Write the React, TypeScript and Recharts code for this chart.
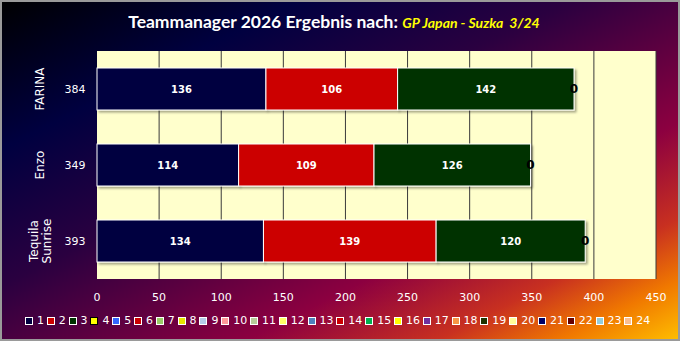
import React from "react";
import { BarChart, Bar, XAxis, YAxis, CartesianGrid, LabelList } from "recharts";

const categories = ["FARINA", "Enzo", "Tequila Sunrise"];
const totals = [384, 349, 393];
const race1 = [136, 114, 134];
const race2 = [106, 109, 139];
const race3 = [142, 126, 120];
const race4 = [0, 0, 0];
const xTicks = [0, 50, 100, 150, 200, 250, 300, 350, 400, 450];

const seriesColors = ["#000040", "#cc0000", "#003300", "#ffff00"];
const legendLabels = [
  "1", "2", "3", "4", "5", "6", "7", "8", "9", "10", "11", "12",
  "13", "14", "15", "16", "17", "18", "19", "20", "21", "22", "23", "24",
];
const legendColors = [
  "#000040", "#cc0000", "#003300", "#ffff00", "#3366ff", "#cc0000",
  "#99cc66", "#e6e600", "#b4cce8", "#ff9999", "#b8cc99", "#ffff66",
  "#4f81bd", "#cc0000", "#00b050", "#ffff00", "#7030a0", "#f79646",
  "#1f3300", "#ffff99", "#000066", "#660000", "#92cddc", "#fabf8f",
];

const data = categories.map((name, i) => ({
  name,
  total: totals[i],
  r1: race1[i],
  r2: race2[i],
  r3: race3[i],
  r4: race4[i],
}));

const font = "'DejaVu Sans', Verdana, sans-serif";

function CategoryTick(props: any) {
  const { x, y, payload } = props;
  const idx = categories.indexOf(payload.value);
  const words = String(payload.value).split(" ");
  const nx = x - 57;
  return (
    <g fill="#ffffff" fontFamily={font}>
      <text
        transform={`rotate(-90, ${nx}, ${y})`}
        x={nx}
        y={y}
        textAnchor="middle"
        dominantBaseline="central"
        fill="#ffffff"
        fontSize={12}
      >
        {words.length === 1 ? (
          words[0]
        ) : (
          words.map((w, k) => (
            <tspan key={k} x={nx} y={y + (k - (words.length - 1) / 2) * 13}>
              {w}
            </tspan>
          ))
        )}
      </text>
      <text
        x={x - 22}
        y={y}
        textAnchor="middle"
        dominantBaseline="central"
        fill="#ffffff"
        fontSize={11}
      >
        {totals[idx]}
      </text>
    </g>
  );
}

function ShadowRect(props: any) {
  const { x, y, width, height, fill } = props;
  if (!width || width <= 0) return null;
  return (
    <rect
      x={x}
      y={y}
      width={width}
      height={height}
      fill={fill}
      stroke="#ffffff"
      strokeWidth={1}
      filter="url(#barShadow)"
    />
  );
}

// skip the line at 0, the reference has none there
function GridLine(props: any) {
  const { x1, y1, x2, y2, index } = props;
  if (index === 0) return <g />;
  return <line x1={x1} y1={y1} x2={x2} y2={y2} stroke="#3a3a3a" strokeWidth={1} />;
}

export default function App() {
  return (
    <div
      style={{
        position: "absolute",
        left: 0,
        top: 0,
        width: 680,
        height: 341,
        overflow: "hidden",
        background:
          "linear-gradient(to bottom right, #000000 0%, #000040 22%, #2a0040 42%, #5a0040 55%, #8c0040 68%, #c83020 82%, #f07800 91%, #ffc000 100%)",
      }}
    >
      <svg width={0} height={0} style={{ position: "absolute" }}>
        <defs>
          <filter id="barShadow" x="-5%" y="-20%" width="115%" height="150%">
            <feDropShadow dx={2} dy={2} stdDeviation={1} floodColor="#000000" floodOpacity={0.35} />
          </filter>
        </defs>
      </svg>
      <div
        style={{
          position: "absolute",
          top: 12,
          left: -6,
          width: 680,
          textAlign: "center",
          lineHeight: "20px",
          whiteSpace: "pre",
        }}
      >
        <span style={{ fontFamily: "Lato, sans-serif", fontWeight: 700, fontSize: 17.5, color: "#ffffff" }}>
          Teammanager 2026 Ergebnis nach:{" "}
        </span>
        <span
          style={{
            fontFamily: "Lato, sans-serif",
            fontWeight: 700,
            fontStyle: "italic",
            fontSize: 14,
            color: "#ffff00",
          }}
        >
          GP Japan - Suzka  3/24
        </span>
      </div>
      <div style={{ position: "absolute", left: 0, top: 0 }}>
        <BarChart
          width={680}
          height={341}
          data={data}
          layout="vertical"
          margin={{ top: 51, right: 24, bottom: 42, left: 0 }}
        >
          <CartesianGrid
            horizontal={false}
            vertical={(p: any) => <GridLine {...p} />}
            stroke="#3a3a3a"
            fill="#ffffcc"
            fillOpacity={1}
          />
          <XAxis
            type="number"
            domain={[0, 450]}
            ticks={xTicks}
            height={20}
            axisLine={false}
            tickLine={false}
            tickSize={0}
            tickMargin={14}
            tick={{ fill: "#ffffff", fontSize: 11, fontFamily: font }}
          />
          <YAxis
            type="category"
            dataKey="name"
            width={97}
            axisLine={false}
            tickLine={false}
            tickSize={0}
            tickMargin={0}
            tick={<CategoryTick />}
          />
          {(["r1", "r2", "r3"] as const).map((key, i) => (
            <Bar
              key={key}
              dataKey={key}
              stackId="a"
              fill={seriesColors[i]}
              barSize={42}
              shape={<ShadowRect />}
              isAnimationActive={false}
            >
              <LabelList
                dataKey={key}
                position="center"
                fill="#ffffff"
                fontSize={10}
                fontWeight="bold"
                fontFamily={font}
              />
            </Bar>
          ))}
          <Bar
            dataKey="r4"
            stackId="a"
            fill={seriesColors[3]}
            barSize={42}
            shape={<ShadowRect />}
            isAnimationActive={false}
          >
            <LabelList
              dataKey="r4"
              position="center"
              fill="#000000"
              fontSize={12}
              fontWeight="bold"
              fontFamily={font}
            />
          </Bar>
        </BarChart>
      </div>
      <div
        style={{
          position: "absolute",
          left: 25,
          top: 313,
          display: "flex",
          alignItems: "center",
          gap: 2.8,
          fontFamily: font,
          fontSize: 11,
          color: "#ffffff",
          lineHeight: "16px",
        }}
      >
        {legendLabels.map((label, i) => (
          <span key={label} style={{ display: "flex", alignItems: "center" }}>
            <span
              style={{
                display: "inline-block",
                boxSizing: "border-box",
                width: 8,
                height: 8,
                marginRight: 4,
                background: legendColors[i],
                border: `1px solid ${i === 3 ? "#000000" : "#ffffff"}`,
              }}
            />
            <span>{label}</span>
          </span>
        ))}
      </div>
      <div
        style={{
          position: "absolute",
          inset: 0,
          border: "2px solid #9a9a9a",
          pointerEvents: "none",
        }}
      />
    </div>
  );
}
